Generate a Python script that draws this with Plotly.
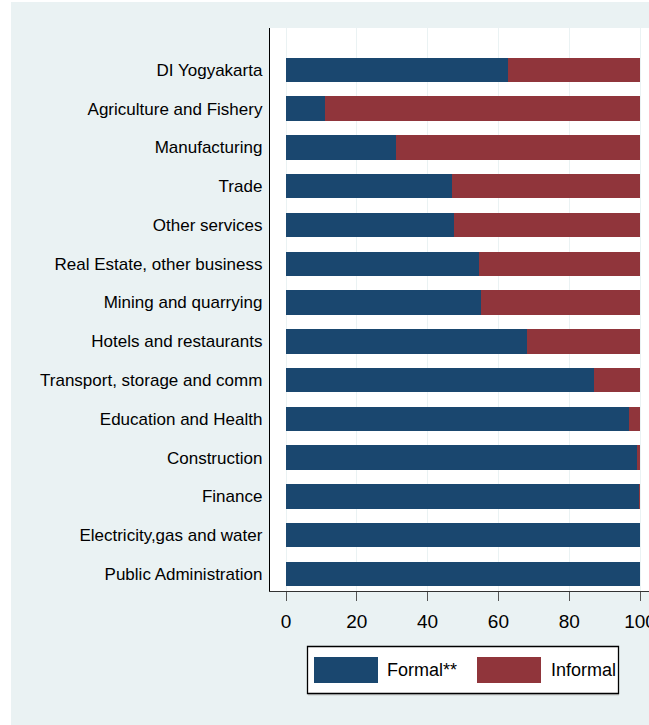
import plotly.graph_objects as go

categories = [
    "DI Yogyakarta",
    "Agriculture and Fishery",
    "Manufacturing",
    "Trade",
    "Other services",
    "Real Estate, other business",
    "Mining and quarrying",
    "Hotels and restaurants",
    "Transport, storage and comm",
    "Education and Health",
    "Construction",
    "Finance",
    "Electricity,gas and water",
    "Public Administration",
]
formal = [62.7, 11.1, 31.1, 46.9, 47.4, 54.6, 55.1, 68.2, 86.9, 96.9, 99.2, 99.7, 100.0, 100.0]
informal = [round(100 - v, 1) for v in formal]
series_names = ["Formal**", "Informal"]
x_ticks = [0, 20, 40, 60, 80, 100]

BLUE = "#1A476F"
RED = "#90353B"
BG = "#EAF2F3"
FONT = "Liberation Sans, Arial, sans-serif"
FS = 17

W, H = 649, 725
L, R, T, B = 270, 0, 28, 134
PW, PH = W - L - R, H - T - B


def px(x):
    return (x - L) / PW


def py(y):
    return (H - B - y) / PH


fig = go.Figure()
fig.add_trace(go.Bar(y=categories, x=formal, orientation="h", name=series_names[0],
                     marker=dict(color=BLUE, line=dict(width=0))))
fig.add_trace(go.Bar(y=categories, x=informal, orientation="h", name=series_names[1],
                     marker=dict(color=RED, line=dict(width=0))))

shapes = [
    # white strips at the image edges
    dict(type="rect", xref="paper", yref="paper", x0=px(-5), x1=px(11), y0=py(H + 5), y1=py(-5),
         fillcolor="white", line=dict(width=0), layer="above"),
    dict(type="rect", xref="paper", yref="paper", x0=px(-5), x1=px(W + 5), y0=py(2), y1=py(-5),
         fillcolor="white", line=dict(width=0), layer="above"),
    # legend box
    dict(type="rect", xref="paper", yref="paper", x0=px(308), x1=px(619), y0=py(695.5), y1=py(647),
         fillcolor="#C8CCCC", line=dict(width=0), layer="above"),
    dict(type="rect", xref="paper", yref="paper", x0=px(307.5), x1=px(618.5), y0=py(693.5), y1=py(646.5),
         fillcolor="white", line=dict(color="black", width=1.3), layer="above"),
    dict(type="rect", xref="paper", yref="paper", x0=px(314), x1=px(378), y0=py(683), y1=py(657),
         fillcolor=BLUE, line=dict(width=0), layer="above"),
    dict(type="rect", xref="paper", yref="paper", x0=px(477), x1=px(541), y0=py(683), y1=py(657),
         fillcolor=RED, line=dict(width=0), layer="above"),
]

annotations = [
    dict(text=series_names[0], xref="paper", yref="paper", x=px(385), y=py(670),
         xanchor="left", yanchor="middle", showarrow=False, font=dict(size=18, color="black", family=FONT)),
    dict(text=series_names[1], xref="paper", yref="paper", x=px(549), y=py(670),
         xanchor="left", yanchor="middle", showarrow=False, font=dict(size=18, color="black", family=FONT)),
]

fig.update_layout(
    width=W, height=H,
    margin=dict(l=L, r=R, t=T, b=B, pad=0, autoexpand=False),
    barmode="stack",
    bargap=0.37,
    showlegend=False,
    paper_bgcolor=BG,
    plot_bgcolor="white",
    font=dict(family=FONT, size=FS, color="black"),
    shapes=shapes,
    annotations=annotations,
    xaxis=dict(
        range=[-4.52, 102.54],
        tickvals=x_ticks,
        ticktext=[str(v) for v in x_ticks],
        ticks="outside", ticklen=9, tickwidth=1, tickcolor="#555555",
        showgrid=True, gridcolor=BG, gridwidth=1,
        showline=True, linecolor="#333333", linewidth=1.2,
        zeroline=False,
        automargin=False,
        ticklabeloverflow="allow",
        ticklabelstandoff=4,
        tickfont=dict(size=19, color="black", family=FONT),
        fixedrange=True,
    ),
    yaxis=dict(
        categoryorder="array", categoryarray=categories,
        range=[13.44, -1.08],
        showgrid=False, zeroline=False,
        showline=True, linecolor="black", linewidth=1.2,
        ticks="", ticklabelstandoff=3,
        automargin=False,
        tickfont=dict(size=FS, color="black", family=FONT),
        fixedrange=True,
    ),
)

fig.write_html(
    "out.html",
    config={"displayModeBar": False, "staticPlot": True},
    post_script="document.body.style.margin='0';document.body.style.overflow='hidden';",
)
